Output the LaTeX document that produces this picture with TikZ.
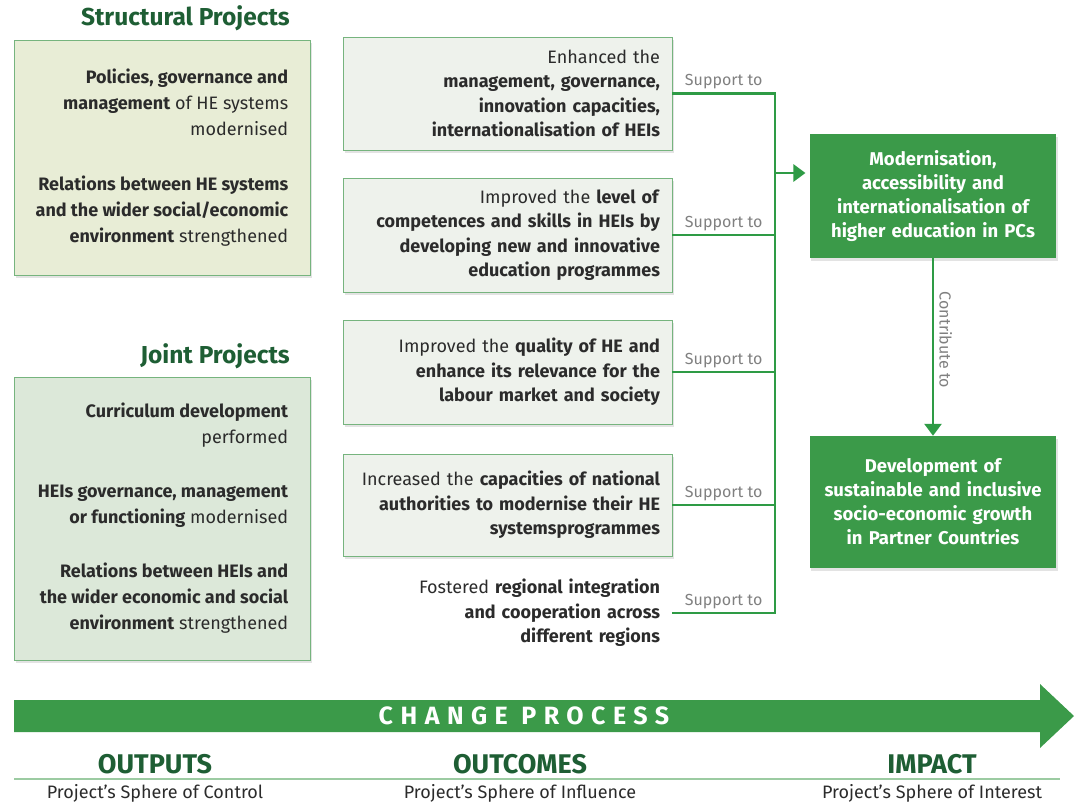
\documentclass[tikz,border=0pt]{standalone}
\usepackage{fontspec}
\setmainfont{Fira Sans}
\usepackage{xcolor}
\usepackage{tikz}
\usetikzlibrary{positioning,arrows.meta,calc,shadows}

\definecolor{titlegreen}{HTML}{1E5E34}
\definecolor{linkgreen}{HTML}{2E9B45}
\definecolor{boxgreen}{HTML}{3B9A49}
\definecolor{structfill}{HTML}{E8EDD6}
\definecolor{jointfill}{HTML}{DCE8D9}
\definecolor{midfill}{HTML}{EEF2EC}
\definecolor{boxline}{HTML}{76B47E}
\definecolor{ink}{HTML}{2B2B2B}
\definecolor{suppgray}{HTML}{808080}
\definecolor{rulegreen}{HTML}{9CCBA2}

\begin{document}
\begin{tikzpicture}[x=1pt,y=-1pt,
  softshadow/.style={drop shadow={shadow xshift=1.5pt, shadow yshift=-2.5pt, opacity=0.22}},
  grouptitle/.style={font=\fontsize{24.5}{28}\selectfont\bfseries, text=titlegreen, anchor=east, inner sep=0pt},
  outbox/.style={draw=boxline, line width=0.8pt, minimum width=296pt, softshadow},
  outtext/.style={align=right, text=ink, font=\fontsize{18}{26}\selectfont, inner sep=0pt},
  midbox/.style={draw=boxline, line width=0.8pt, fill=midfill, text width=305pt, inner xsep=12pt,
    align=right, text=ink, font=\fontsize{18}{24.5}\selectfont, softshadow},
  midtext/.style={text width=305pt, inner xsep=12pt, align=right, text=ink, font=\fontsize{18}{24.5}\selectfont},
  impactbox/.style={fill=boxgreen, text=white, font=\fontsize{18.5}{24}\selectfont\bfseries, align=center,
    text width=240pt, minimum width=246pt, softshadow},
  link/.style={draw=linkgreen, line width=2.6pt},
  supp/.style={above, text=suppgray, font=\fontsize{16}{18}\selectfont, inner sep=3pt},
  phase/.style={font=\fontsize{27}{30}\selectfont\bfseries, text=titlegreen},
  sphere/.style={font=\fontsize{18}{20}\selectfont, text=ink}]

  \useasboundingbox (0,0) rectangle (1076,804);

  % Outputs: structural projects
  \node[grouptitle] (stitle) at (290,18) {Structural Projects};
  \node[outbox, fill=structfill, minimum height=235pt] (sbox) at (162,157.5) {};
  \node[outtext, left=22pt of sbox.east] (stext)
    {\textbf{Policies, governance and}\\ \textbf{management} of HE systems\\ modernised\\[29pt]
     \textbf{Relations between HE systems}\\ \textbf{and the wider social/economic}\\ \textbf{environment} strengthened};

  % Outputs: joint projects
  \node[grouptitle] (jtitle) at (290,356) {Joint Projects};
  \node[outbox, fill=jointfill, minimum height=283pt] (jbox) at (162,518.5) {};
  \node[outtext, left=22pt of jbox.east] (jtext)
    {\textbf{Curriculum development}\\ performed\\[28pt]
     \textbf{HEIs governance, management}\\ \textbf{or functioning} modernised\\[28pt]
     \textbf{Relations between HEIs and}\\ \textbf{the wider economic and social}\\ \textbf{environment} strengthened};

  % Outcomes
  \node[midbox, minimum height=113pt] (mgmt) at (507.5,93.5)
    {Enhanced the\\ \textbf{management, governance,}\\ \textbf{innovation capacities,}\\ \textbf{internationalisation of HEIs}};
  \node[midbox, minimum height=114pt] (skills) at (507.5,235)
    {Improved the \textbf{level of}\\ \textbf{competences and skills in HEIs by}\\ \textbf{developing new and innovative}\\ \textbf{education programmes}};
  \node[midbox, minimum height=104pt] (quality) at (507.5,372)
    {Improved the \textbf{quality of HE and}\\ \textbf{enhance its relevance for the}\\ \textbf{labour market and society}};
  \node[midbox, minimum height=102pt] (capac) at (507.5,505)
    {Increased the \textbf{capacities of national}\\ \textbf{authorities to modernise their HE}\\ \textbf{systemsprogrammes}};
  \node[midtext] (regio) at (507.5,613)
    {Fostered \textbf{regional integration}\\ \textbf{and cooperation across}\\ \textbf{different regions}};

  % Impact
  \node[impactbox, minimum height=124pt] (modern) at (933,196)
    {Modernisation,\\ accessibility and\\ internationalisation of\\ higher education in PCs};
  \node[impactbox, minimum height=132pt] (growth) at (933,502)
    {Development of\\ sustainable and inclusive\\ socio-economic growth\\ in Partner Countries};

  % Support connectors into the bus
  \coordinate (bus) at (775,0);
  \draw[link] (mgmt.east) -- node[supp] {Support to} (mgmt.east -| bus)
    -- (regio.east -| bus) -- node[supp] {Support to} (regio.east);
  \foreach \src in {skills,quality,capac}
    \draw[link] (\src.east) -- node[supp] {Support to} (\src.east -| bus);
  \coordinate (feed) at ($(modern.west)+(0,-23)$);
  \draw[link, -{Triangle[length=12pt,width=17pt]}, shorten >=4pt] (bus |- feed) -- (feed);

  % Contribution
  \draw[link, -{Triangle[length=12pt,width=17pt]}] (modern.south) --
    node[pos=0.46, rotate=-90, anchor=south, text=suppgray, font=\fontsize{16}{18}\selectfont, inner sep=5pt] {Contribute to}
    (growth.north);

  % Change process arrow
  \fill[boxgreen] (14,700) -- (1040,700) -- (1040,684) -- (1074,716) -- (1040,748) -- (1040,732) -- (14,732) -- cycle;
  \node[text=white, font=\fontsize{25}{27}\selectfont\bfseries\addfontfeature{LetterSpace=30}] (change) at (524,716) {CHANGE PROCESS};

  % Spheres
  \node[phase] (outputs) at (155,764) {OUTPUTS};
  \node[phase] (outcomes) at (520,764) {OUTCOMES};
  \node[phase] (impact) at (932,764) {IMPACT};
  \draw[rulegreen, line width=1.6pt] (14,779) -- (1060,779);
  \node[sphere] (control) at (155,793) {Project’s Sphere of Control};
  \node[sphere] (influence) at (520,793) {Project’s Sphere of Influence};
  \node[sphere] (interest) at (932,793) {Project’s Sphere of Interest};

\end{tikzpicture}
\end{document}
